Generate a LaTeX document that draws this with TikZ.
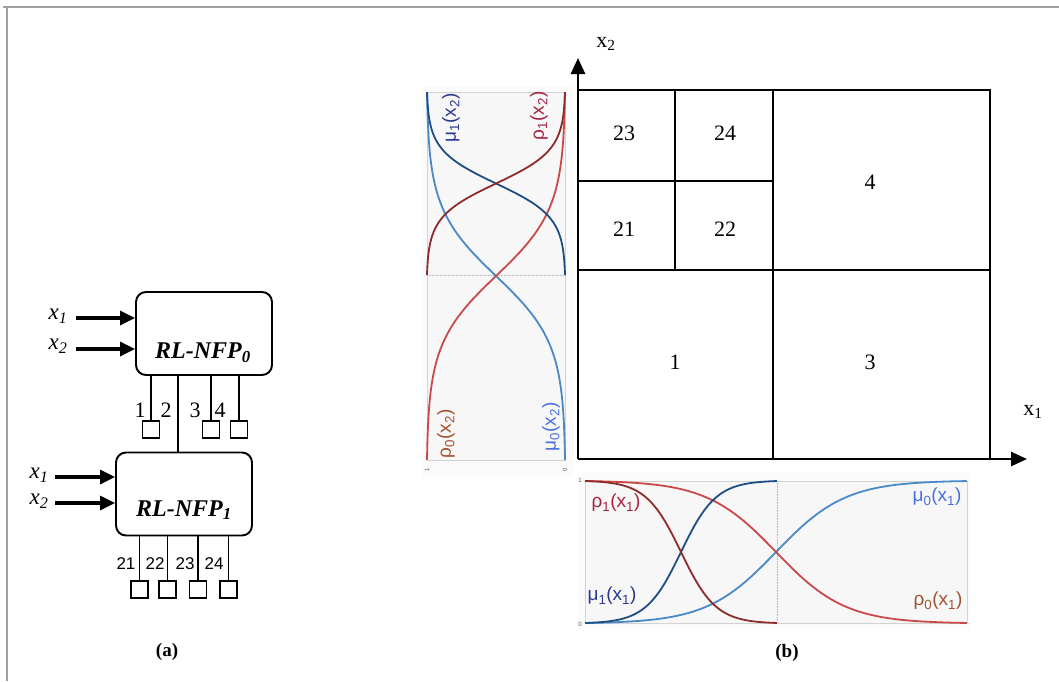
\documentclass[tikz,border=0pt]{standalone}
\usepackage{fontspec}
\setmainfont{Liberation Serif}
\newfontfamily\arialf{Liberation Sans}
\usetikzlibrary{arrows.meta}
\definecolor{dblue}{HTML}{1F4E85}
\definecolor{lblue}{HTML}{4A89C8}
\definecolor{dred}{HTML}{8E2B2B}
\definecolor{lred}{HTML}{C9494A}
\definecolor{cmuone}{HTML}{2B3990}
\definecolor{crhoone}{HTML}{A8223F}
\definecolor{crhozero}{HTML}{A0522D}
\definecolor{cmuzero}{HTML}{4A6FE3}
\definecolor{framegray}{HTML}{A0A0A0}
\begin{document}
\begin{tikzpicture}[x=1pt,y=-1pt,
  declare function={sg(\t)=(1/(1+exp(-11*(\t-0.5)))-0.00407)/0.99186;},
  nfp/.style={draw, line width=1.9pt, rounded corners=10pt, minimum width=136pt, minimum height=83pt, inner sep=0pt},
  sq/.style={draw, line width=1.8pt, minimum size=17pt, inner sep=0pt},
  wire/.style={line width=1.9pt},
  inarrow/.style={line width=3.2pt, -{Triangle[length=15pt,width=14pt]}},
  axisarrow/.style={line width=2.6pt, -{Triangle[length=16pt,width=14pt]}},
  gridline/.style={line width=2.1pt},
  nfptext/.style={font=\fontsize{24}{28}\selectfont\bfseries\itshape},
  inlabel/.style={font=\fontsize{23}{27}\selectfont\itshape},
  outnum/.style={font=\fontsize{22}{26}\selectfont},
  outnumb/.style={font=\arialf\fontsize{17}{20}\selectfont},
  cellnum/.style={font=\fontsize{22}{26}\selectfont},
  axislab/.style={font=\fontsize{22}{26}\selectfont},
  curvelab/.style={font=\arialf\fontsize{19}{22}\selectfont},
  ticklab/.style={font=\arialf\fontsize{6}{7}\selectfont, text=gray!70!black},
  curve/.style={line width=1.8pt},
  caption/.style={font=\fontsize{19}{22}\selectfont\bfseries}
]
\useasboundingbox (0,0) rectangle (1059,681);
% frame
\draw[framegray, line width=2pt] (3,7) -- (1059,7);
\draw[framegray, line width=2pt] (7,7) -- (7,681);

% ---------------- (a) ----------------
\node[nfp] (b0) at (204,333.5) {};
\node[nfptext] (t0) at (203,353) {RL-NFP\textsubscript{0}};
\node[nfp] (b1) at (184,494) {};
\node[nfptext] (t1) at (184,510) {RL-NFP\textsubscript{1}};

\coordinate (a01) at (76,318);
\coordinate (a02) at (76,349);
\coordinate (a11) at (55,477);
\coordinate (a12) at (55,503);
\draw[inarrow] (a01) -- (a01 -| b0.west);
\draw[inarrow] (a02) -- (a02 -| b0.west);
\draw[inarrow] (a11) -- (a11 -| b1.west);
\draw[inarrow] (a12) -- (a12 -| b1.west);
\node[inlabel] (l01) at (58,316) {x\textsubscript{1}};
\node[inlabel] (l02) at (58,346) {x\textsubscript{2}};
\node[inlabel] (l11) at (39,475) {x\textsubscript{1}};
\node[inlabel] (l12) at (39,501) {x\textsubscript{2}};

% outputs of NFP0
\node[sq] (s1) at (151,429.5) {};
\node[sq] (s3) at (211,429.5) {};
\node[sq] (s4) at (239,429.5) {};
\draw[wire] (s1.north |- b0.south) -- (s1.north);
\draw[wire] (s3.north |- b0.south) -- (s3.north);
\draw[wire] (s4.north |- b0.south) -- (s4.north);
\draw[wire] (178,375) coordinate (c2) -- (c2 |- b1.north);
\node[outnum] (n1) at (140,410) {1};
\node[outnum] (n2) at (166,410) {2};
\node[outnum] (n3) at (195,410) {3};
\node[outnum] (n4) at (220,410) {4};

% outputs of NFP1
\node[sq] (s21) at (139.5,589.5) {};
\node[sq] (s22) at (167.5,589.5) {};
\node[sq] (s23) at (198,589.5) {};
\node[sq] (s24) at (228.5,589.5) {};
\draw[wire] (s21.north |- b1.south) -- (s21.north);
\draw[wire] (s22.north |- b1.south) -- (s22.north);
\draw[wire] (s23.north |- b1.south) -- (s23.north);
\draw[wire] (s24.north |- b1.south) -- (s24.north);
\node[outnumb] (n21) at (126,564) {21};
\node[outnumb] (n22) at (155,564) {22};
\node[outnumb] (n23) at (185,564) {23};
\node[outnumb] (n24) at (214,564) {24};

\node[caption] (capa) at (167,652) {(a)};

% ---------------- (b) ----------------
% left panel (x2 membership)
\fill[gray!3] (422,86) rectangle (573,477);
\draw[gray!35, fill=gray!6, line width=0.6pt] (427,92) rectangle (565,460);
\draw[gray!55, densely dotted, line width=0.6pt] (427,275) -- (565,275);
\draw[curve, lblue] plot[domain=0:1, samples=80, smooth] ({565-138*sg(\x)},{460-368*\x});
\draw[curve, lred] plot[domain=0:1, samples=80, smooth] ({427+138*sg(\x)},{460-368*\x});
\draw[curve, dblue] plot[domain=0:1, samples=60, smooth] ({565-138*sg(\x)},{275-183*\x});
\draw[curve, dred] plot[domain=0:1, samples=60, smooth] ({427+138*sg(\x)},{275-183*\x});
\node[curvelab, text=cmuone, rotate=90] (lm1) at (451,118) {μ\textsubscript{1}(x\textsubscript{2})};
\node[curvelab, text=crhoone, rotate=90] (lr1) at (539,116) {ρ\textsubscript{1}(x\textsubscript{2})};
\node[curvelab, text=crhozero, rotate=90] (lr0) at (446,434) {ρ\textsubscript{0}(x\textsubscript{2})};
\node[curvelab, text=cmuzero, rotate=90] (lm0) at (551,427) {μ\textsubscript{0}(x\textsubscript{2})};
\node[ticklab, rotate=90] (tl1) at (427,470) {1};
\node[ticklab, rotate=90] (tl0) at (565,470) {0};

% bottom panel (x1 membership)
\fill[gray!3] (578,472) rectangle (971,631);
\draw[gray!35, fill=gray!6, line width=0.6pt] (585,481) rectangle (967,623);
\draw[gray!55, densely dotted, line width=0.6pt] (777,481) -- (777,623);
\draw[curve, lblue] plot[domain=0:1, samples=80, smooth] ({585+382*\x},{623-142*sg(\x)});
\draw[curve, lred] plot[domain=0:1, samples=80, smooth] ({585+382*\x},{481+142*sg(\x)});
\draw[curve, dblue] plot[domain=0:1, samples=60, smooth] ({585+192*\x},{623-142*sg(\x)});
\draw[curve, dred] plot[domain=0:1, samples=60, smooth] ({585+192*\x},{481+142*sg(\x)});
\node[curvelab, text=crhoone] (br1) at (616,503) {ρ\textsubscript{1}(x\textsubscript{1})};
\node[curvelab, text=cmuone] (bm1) at (612,596) {μ\textsubscript{1}(x\textsubscript{1})};
\node[curvelab, text=cmuzero] (bm0) at (937,497) {μ\textsubscript{0}(x\textsubscript{1})};
\node[curvelab, text=crhozero] (br0) at (938,601) {ρ\textsubscript{0}(x\textsubscript{1})};
\node[ticklab] (tb1) at (580,480) {1};
\node[ticklab] (tb0) at (580,624) {0};

% partition grid
\draw[gridline] (578,90) -- (990,90) -- (990,459);
\draw[gridline] (773,90) -- (773,459);
\draw[gridline] (578,270) -- (990,270);
\draw[gridline] (675,90) -- (675,270);
\draw[gridline] (578,181) -- (773,181);
\node[cellnum] (c23) at (624,133) {23};
\node[cellnum] (c24) at (725,133) {24};
\node[cellnum] (c21) at (624,229) {21};
\node[cellnum] (c22) at (725,229) {22};
\node[cellnum] (c4) at (870,182) {4};
\node[cellnum] (c1) at (675,362) {1};
\node[cellnum] (c3) at (870,362) {3};

% axes
\coordinate (O) at (578,459);
\coordinate (Xend) at (1027,459);
\coordinate (Yend) at (578,58);
\draw[axisarrow] (O) -- (Xend);
\draw[axisarrow] (O) -- (Yend);
\node[axislab] (xl1) at (1033,412) {x\textsubscript{1}};
\node[axislab] (xl2) at (606,44) {x\textsubscript{2}};

\node[caption] (capb) at (787,653) {(b)};
\end{tikzpicture}
\end{document}
